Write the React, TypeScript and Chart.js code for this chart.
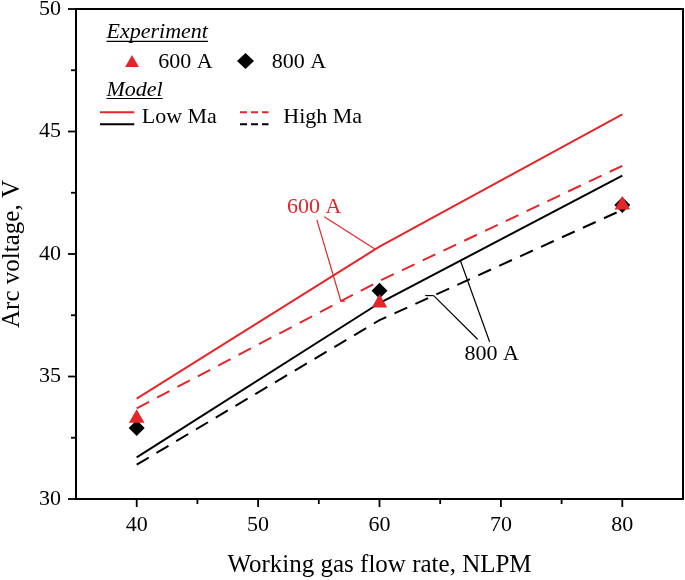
import React, { useEffect, useRef } from 'react';
import { Chart, registerables } from 'chart.js';

Chart.register(...registerables);

// ---- data ----
const flowRates = [40, 60, 80];
const exp600A = [33.3, 38.0, 42.0];
const exp800A = [32.9, 38.5, 42.0];
const lowMa600A = [34.1, 40.3, 45.7];
const highMa600A = [33.7, 38.9, 43.6];
const lowMa800A = [31.7, 38.0, 43.2];
const highMa800A = [31.4, 37.3, 41.8];

const xMajorTicks = [40, 50, 60, 70, 80];
const xMinorTicks = [45, 55, 65, 75];
const yMajorTicks = [30, 35, 40, 45, 50];
const yMinorTicks = [32.5, 37.5, 42.5, 47.5];

const xTitle = 'Working gas flow rate, NLPM';
const yTitle = 'Arc voltage, V';

// annotations (data coordinates)
const label600 = { text: '600 A', x: 54.62, y: 41.92 };
const label800 = { text: '800 A', x: 69.25, y: 35.92 };

const RED = '#e3262a';
const BLACK = '#000000';
const FONT = '"Liberation Serif", "Times New Roman", serif';

const toXY = (xs: number[], ys: number[]) => xs.map((x, i) => ({ x, y: ys[i] }));

const lineAt = (xs: number[], ys: number[], x: number) => {
  for (let i = 0; i < xs.length - 1; i++) {
    if (x >= xs[i] && x <= xs[i + 1]) {
      const t = (x - xs[i]) / (xs[i + 1] - xs[i]);
      return ys[i] + t * (ys[i + 1] - ys[i]);
    }
  }
  return ys[ys.length - 1];
};

const overlayPlugin = {
  id: 'overlay',
  afterDraw(chart: any) {
    const { ctx, chartArea: a, scales } = chart;
    const xs = scales.x;
    const ys = scales.y;
    const px = (v: number) => xs.getPixelForValue(v);
    const py = (v: number) => ys.getPixelForValue(v);
    const seg = (x1: number, y1: number, x2: number, y2: number) => {
      ctx.beginPath();
      ctx.moveTo(x1, y1);
      ctx.lineTo(x2, y2);
      ctx.stroke();
    };
    ctx.save();
    // frame
    ctx.strokeStyle = BLACK;
    ctx.lineWidth = 2;
    ctx.strokeRect(a.left, a.top, a.right - a.left, a.bottom - a.top);
    // ticks
    ctx.lineWidth = 1.8;
    xMajorTicks.forEach((v) => seg(px(v), a.bottom, px(v), a.bottom + 8));
    xMinorTicks.forEach((v) => seg(px(v), a.bottom, px(v), a.bottom + 5));
    yMajorTicks.forEach((v) => seg(a.left - 8, py(v), a.left, py(v)));
    yMinorTicks.forEach((v) => seg(a.left - 5, py(v), a.left, py(v)));

    // annotations
    ctx.font = `22px ${FONT}`;
    ctx.textAlign = 'center';
    ctx.textBaseline = 'middle';
    ctx.fillStyle = RED;
    ctx.fillText(label600.text, px(label600.x), py(label600.y));
    ctx.fillStyle = BLACK;
    ctx.fillText(label800.text, px(label800.x), py(label800.y));

    ctx.lineWidth = 1.2;
    ctx.strokeStyle = RED;
    // to low Ma 600 A
    seg(px(55.45), py(41.52), px(59.65), py(lineAt(flowRates, lowMa600A, 59.65)));
    // to high Ma 600 A
    const e1x = 56.82;
    const e1y = lineAt(flowRates, highMa600A, e1x);
    seg(px(54.84), py(41.39), px(e1x), py(e1y));
    seg(px(e1x), py(e1y), px(e1x + 0.35), py(e1y));

    ctx.strokeStyle = BLACK;
    // to high Ma 800 A
    const e2x = 64.46;
    const e2y = lineAt(flowRates, highMa800A, e2x);
    seg(px(68.08), py(36.52), px(e2x), py(e2y));
    seg(px(e2x), py(e2y), px(e2x - 0.7), py(e2y));
    // to low Ma 800 A
    seg(px(69.07), py(36.42), px(66.66), py(lineAt(flowRates, lowMa800A, 66.66)));

    // legend
    const L = a.left;
    const T = a.top;
    ctx.textAlign = 'left';
    ctx.textBaseline = 'alphabetic';
    ctx.fillStyle = BLACK;
    ctx.strokeStyle = BLACK;
    ctx.font = `italic 22px ${FONT}`;
    const h1 = 'Experiment';
    ctx.fillText(h1, L + 30.5, T + 28.7);
    let w = ctx.measureText(h1).width;
    ctx.lineWidth = 1.2;
    seg(L + 30.5, T + 32.3, L + 30.5 + w, T + 32.3);
    const h2 = 'Model';
    ctx.fillText(h2, L + 30.5, T + 86.7);
    w = ctx.measureText(h2).width;
    seg(L + 30.5, T + 89.5, L + 30.5 + w, T + 89.5);

    // markers
    const tcx = L + 56;
    const tcy = T + 54;
    const r = 8;
    ctx.fillStyle = RED;
    ctx.beginPath();
    for (let k = 0; k < 3; k++) {
      const ang = (k * 2 * Math.PI) / 3;
      const xx = tcx + Math.sin(ang) * r;
      const yy = tcy - Math.cos(ang) * r;
      if (k === 0) ctx.moveTo(xx, yy);
      else ctx.lineTo(xx, yy);
    }
    ctx.closePath();
    ctx.fill();
    const dcx = L + 169.5;
    const dcy = T + 52;
    ctx.fillStyle = BLACK;
    ctx.beginPath();
    ctx.moveTo(dcx - 8.5, dcy);
    ctx.lineTo(dcx, dcy - 8);
    ctx.lineTo(dcx + 8.5, dcy);
    ctx.lineTo(dcx, dcy + 8);
    ctx.closePath();
    ctx.fill();

    ctx.font = `22px ${FONT}`;
    ctx.fillText('600 A', L + 82.3, T + 58.7);
    ctx.fillText('800 A', L + 195.7, T + 58.7);

    // line samples
    ctx.lineWidth = 2;
    ctx.strokeStyle = RED;
    seg(L + 24, T + 103.3, L + 58.3, T + 103.3);
    ctx.strokeStyle = BLACK;
    seg(L + 24, T + 115.3, L + 58.3, T + 115.3);
    ctx.setLineDash([7, 4]);
    ctx.strokeStyle = RED;
    seg(L + 164, T + 103.3, L + 192.5, T + 103.3);
    ctx.strokeStyle = BLACK;
    seg(L + 164, T + 115.3, L + 192.5, T + 115.3);
    ctx.setLineDash([]);
    ctx.fillStyle = BLACK;
    ctx.fillText('Low Ma', L + 65.7, T + 114.3);
    ctx.fillText('High Ma', L + 207.3, T + 114.3);
    ctx.restore();
  },
};

export default function App() {
  const ref = useRef<HTMLCanvasElement | null>(null);
  useEffect(() => {
    document.body.style.margin = '0';
    const canvas = ref.current;
    if (!canvas) return;
    const lineDs = (label: string, ys: number[], color: string, dashed: boolean) => ({
      label,
      data: toXY(flowRates, ys),
      showLine: true,
      borderColor: color,
      backgroundColor: color,
      borderWidth: 2,
      borderDash: dashed ? [14, 9] : [],
      pointRadius: 0,
      order: 5,
    });
    const chart = new Chart(canvas, {
      type: 'scatter',
      data: {
        datasets: [
          {
            label: '600 A',
            data: toXY(flowRates, exp600A),
            pointStyle: 'triangle',
            pointRadius: 9,
            backgroundColor: RED,
            borderColor: RED,
            borderWidth: 0,
            order: 0,
          },
          {
            label: '800 A',
            data: toXY(flowRates, exp800A),
            pointStyle: 'rectRot',
            pointRadius: 8,
            backgroundColor: BLACK,
            borderColor: BLACK,
            borderWidth: 0,
            order: 1,
          },
          lineDs('Low Ma 600 A', lowMa600A, RED, false),
          lineDs('High Ma 600 A', highMa600A, RED, true),
          lineDs('Low Ma 800 A', lowMa800A, BLACK, false),
          lineDs('High Ma 800 A', highMa800A, BLACK, true),
        ],
      },
      options: {
        animation: false,
        responsive: false,
        devicePixelRatio: 1,
        layout: { autoPadding: false, padding: { top: 9, right: 2, left: 0, bottom: 0 } },
        plugins: { legend: { display: false }, tooltip: { enabled: false } },
        scales: {
          x: {
            type: 'linear',
            min: 35,
            max: 85,
            afterBuildTicks: (s: any) => {
              s.ticks = xMajorTicks.map((v) => ({ value: v }));
            },
            afterFit: (s: any) => {
              s.height = 81;
              s.paddingLeft = 0;
              s.paddingRight = 0;
              s.paddingTop = 0;
              s.paddingBottom = 0;
            },
            grid: { display: false, drawTicks: false },
            border: { display: false },
            ticks: {
              color: BLACK,
              padding: 13,
              maxRotation: 0,
              autoSkip: false,
              font: { family: FONT, size: 22, lineHeight: 1.2 },
            },
            title: {
              display: true,
              text: xTitle,
              color: BLACK,
              padding: { top: 0, bottom: 0 },
              font: { family: FONT, size: 25, lineHeight: 1.2 },
            },
          },
          y: {
            type: 'linear',
            min: 30,
            max: 50,
            afterBuildTicks: (s: any) => {
              s.ticks = yMajorTicks.map((v) => ({ value: v }));
            },
            afterFit: (s: any) => {
              s.width = 76;
              s.paddingLeft = 0;
              s.paddingRight = 0;
              s.paddingTop = 0;
              s.paddingBottom = 0;
            },
            grid: { display: false, drawTicks: false },
            border: { display: false },
            ticks: {
              color: BLACK,
              padding: 15,
              autoSkip: false,
              font: { family: FONT, size: 22, lineHeight: 0.8 },
            },
            title: {
              display: true,
              text: yTitle,
              color: BLACK,
              padding: { top: 0, bottom: 0 },
              font: { family: FONT, size: 25, lineHeight: 1 },
            },
          },
        },
      },
      plugins: [overlayPlugin],
    });
    return () => chart.destroy();
  }, []);
  return <canvas ref={ref} width={685} height={580} style={{ display: 'block' }} />;
}
